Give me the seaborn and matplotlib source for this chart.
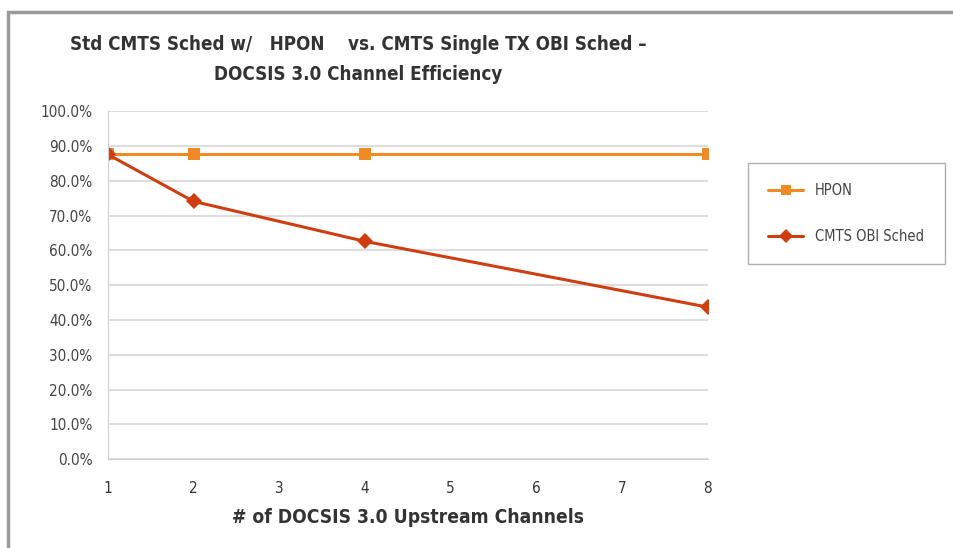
import seaborn as sns
import numpy as np
import pandas as pd
import matplotlib.pyplot as plt
from matplotlib.patches import Rectangle
from matplotlib.ticker import FuncFormatter
from matplotlib import font_manager

# values
channels = [1, 2, 4, 8]
hpon = [87.6, 87.6, 87.6, 87.6]
cmts_obi = [87.6, 74.1, 62.6, 43.7]
series_names = ['HPON', 'CMTS OBI Sched']

df = pd.DataFrame({
    'channels': channels * 2,
    'eff': hpon + cmts_obi,
    'series': [series_names[0]] * 4 + [series_names[1]] * 4,
})

# use the condensed DejaVu cut if it is installed (closer to the Calibri look)
has_cond = any(f.name == 'DejaVu Sans' and f.stretch == 'condensed'
               for f in font_manager.fontManager.ttflist)
stretch = 'condensed' if has_cond else 'normal'
k = 1.0 if has_cond else 0.85

sns.set_style('white')
plt.rcParams['font.family'] = ['DejaVu Sans']
plt.rcParams['font.stretch'] = stretch

fig = plt.figure(figsize=(9.54, 5.48), dpi=100)
ax = fig.add_axes([0.113, 0.162, 0.629, 0.635])

# outer chart frame (cropped on the right / bottom)
fig.patches.append(Rectangle((8 / 954, -0.05), 1.1, 1.05 - 12 / 548,
                             transform=fig.transFigure, fill=False,
                             edgecolor='#9a9a9a', linewidth=2.5))

palette = {'HPON': '#F08A24', 'CMTS OBI Sched': '#CF3E10'}
markers = {'HPON': 's', 'CMTS OBI Sched': 'D'}
sns.lineplot(data=df, x='channels', y='eff', hue='series', style='series',
             palette=palette, markers=markers, dashes=False, ax=ax,
             linewidth=2.2, markersize=8, markeredgewidth=0)

ax.set_xlim(1, 8)
ax.set_ylim(0, 100)
ax.set_xticks(range(1, 9))
ax.set_yticks(np.arange(0, 101, 10))
ax.yaxis.set_major_formatter(FuncFormatter(lambda v, p: f'{v:.1f}%'))
ax.grid(axis='y', color='#dedede', linewidth=1.5)
ax.grid(axis='x', visible=False)
for s in ['top', 'right']:
    ax.spines[s].set_visible(False)
for s in ['left', 'bottom']:
    ax.spines[s].set_color('#d0d0d0')
ax.tick_params(axis='x', direction='out', length=6, color='#d0d0d0',
               labelsize=11 * k, pad=10, labelcolor='#333333')
ax.tick_params(axis='y', length=0, labelsize=11 * k, labelcolor='#444444', pad=11)
ax.set_xlabel('# of DOCSIS 3.0 Upstream Channels', fontsize=13.8 * k,
              fontweight='bold', color='#333333', labelpad=8)
ax.set_ylabel('')

fig.text(358 / 954, 1 - 45 / 548,
         'Std CMTS Sched w/   HPON    vs. CMTS Single TX OBI Sched \u2013',
         ha='center', va='center', fontsize=13.5 * k, fontweight='bold',
         color='#333333')
fig.text(358 / 954, 1 - 75 / 548, 'DOCSIS 3.0 Channel Efficiency',
         ha='center', va='center', fontsize=13.5 * k, fontweight='bold',
         color='#333333')

ax.legend(title=None, loc='upper left', bbox_to_anchor=(748 / 954, 1 - 163 / 548),
          bbox_transform=fig.transFigure, borderaxespad=0, frameon=True,
          fancybox=False, edgecolor='#9a9a9a', fontsize=10.5 * k,
          labelspacing=2.1, borderpad=1.4, handlelength=2.4, markerscale=0.9)
leg = ax.get_legend()
for t in leg.get_texts():
    t.set_color('#444444')

fig.savefig('out.png', dpi=100)
